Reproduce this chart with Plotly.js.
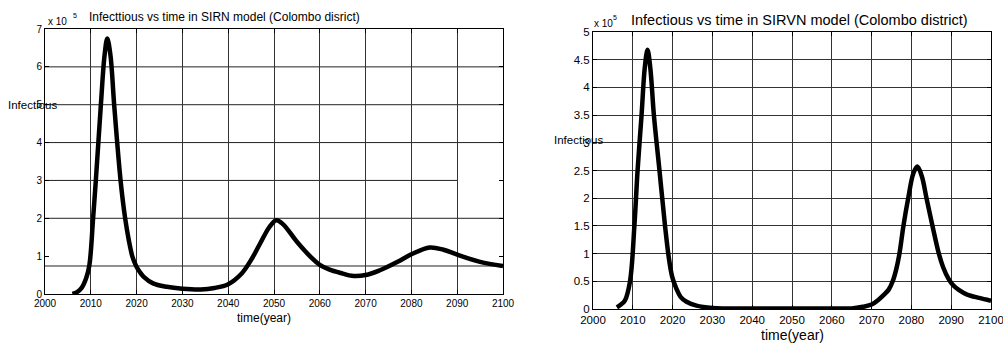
<!DOCTYPE html>
<html>
<head>
<meta charset="utf-8">
<script src="https://cdn.plot.ly/plotly-3.0.1.min.js"></script>
<style>
  html, body { margin: 0; padding: 0; background: #fff; }
  #chart { width: 1003px; height: 344px; }
</style>
</head>
<body>
<div id="chart"></div>
<script>
// ---- Data (values in units of 10^5) ----
const sirnYears = [2006, 2007, 2008, 2009, 2009.7, 2010.5, 2011.1, 2012.2, 2013, 2013.6, 2014.3, 2015.1, 2016.5, 2017.5, 2018.3, 2019.1, 2019.9, 2020.7, 2021.5, 2023.6, 2026.6, 2030, 2034, 2037, 2040, 2043, 2045, 2047, 2049, 2050.5, 2052, 2055, 2058, 2060, 2062, 2065, 2067, 2070, 2073, 2077, 2080, 2084, 2087, 2090, 2095, 2100];
const sirnInfectious = [0, 0.05, 0.16, 0.42, 0.77, 2, 3, 5, 6.3, 6.75, 6.3, 5, 3, 2, 1.42, 0.98, 0.74, 0.58, 0.46, 0.28, 0.19, 0.14, 0.12, 0.16, 0.26, 0.55, 0.9, 1.34, 1.77, 1.95, 1.84, 1.38, 0.98, 0.77, 0.65, 0.54, 0.48, 0.5, 0.62, 0.85, 1.05, 1.23, 1.17, 1.04, 0.85, 0.74];

const sirvnYears = [2006, 2007, 2008, 2009.3, 2010.4, 2011.2, 2012.2, 2013, 2013.7, 2014.4, 2015.3, 2016.7, 2018.1, 2019, 2019.9, 2021, 2022, 2023.5, 2026, 2030, 2040, 2050, 2060, 2065, 2067.8, 2070, 2071.6, 2073, 2074.3, 2075.3, 2076.2, 2077, 2078, 2079.2, 2080.5, 2081.5, 2082.6, 2083.8, 2085.3, 2086.9, 2088, 2089.3, 2090.5, 2092, 2094, 2097, 2100];
const sirvnInfectious = [0.03, 0.08, 0.15, 0.5, 1.5, 2.5, 3.5, 4.35, 4.68, 4.35, 3.5, 2.5, 1.5, 0.95, 0.58, 0.36, 0.22, 0.13, 0.06, 0.02, 0.01, 0.01, 0.01, 0.01, 0.04, 0.08, 0.16, 0.25, 0.35, 0.5, 0.72, 1.0, 1.5, 2.0, 2.45, 2.57, 2.4, 2.0, 1.5, 1.0, 0.75, 0.55, 0.43, 0.34, 0.26, 0.2, 0.15];

const yearTicks = [2000, 2010, 2020, 2030, 2040, 2050, 2060, 2070, 2080, 2090, 2100];
const leftYTicks = [0, 1, 2, 3, 4, 5, 6, 7];

// ---- Layout helpers ----
const W = 1003, H = 344;
const px = v => v / W;
const py = v => 1 - v / H;
const FONT = 'Liberation Sans, Arial, Helvetica, sans-serif';

// Left panel horizontal grid lines (as drawn in the original figure)
const leftGridFull = [0.74, 2, 4, 5, 6];
const leftGridPartial = { y: 3, x0: 2000, x1: 2090 };

const shapes = [];
leftGridFull.forEach(g => shapes.push({
  type: 'line', xref: 'x', yref: 'y', x0: 2000, x1: 2100, y0: g, y1: g,
  line: { color: '#222', width: 1 }, layer: 'below'
}));
shapes.push({
  type: 'line', xref: 'x', yref: 'y', x0: leftGridPartial.x0, x1: leftGridPartial.x1,
  y0: leftGridPartial.y, y1: leftGridPartial.y, line: { color: '#222', width: 1 }, layer: 'below'
});

const axisCommon = {
  showline: true, linecolor: '#000', linewidth: 1, mirror: 'ticks',
  ticks: 'inside', ticklen: 4, tickcolor: '#000', zeroline: false,
  gridcolor: '#333', gridwidth: 1, ticklabeloverflow: 'allow'
};

const traces = [
  { x: sirnYears, y: sirnInfectious, xaxis: 'x', yaxis: 'y', type: 'scatter', mode: 'lines',
    line: { color: '#000', width: 4.5, shape: 'spline', smoothing: 1 }, hoverinfo: 'skip' },
  { x: sirvnYears, y: sirvnInfectious, xaxis: 'x2', yaxis: 'y2', type: 'scatter', mode: 'lines',
    line: { color: '#000', width: 4.5, shape: 'spline', smoothing: 1 }, hoverinfo: 'skip' }
];

const ann = (text, x, y, size, xanchor) => ({
  text, xref: 'paper', yref: 'paper', x: px(x), y: py(y), xanchor: xanchor || 'center',
  yanchor: 'middle', showarrow: false, font: { family: FONT, size, color: '#000' }
});

const layout = {
  width: W, height: H,
  margin: { l: 0, r: 0, t: 0, b: 0, pad: 0 },
  paper_bgcolor: '#fff', plot_bgcolor: '#fff',
  showlegend: false,
  font: { family: FONT, color: '#000' },
  xaxis: Object.assign({}, axisCommon, {
    domain: [px(45), px(503)], range: [2000, 2100], tickvals: yearTicks,
    showgrid: true, anchor: 'y', tickfont: { family: FONT, size: 10 }
  }),
  yaxis: Object.assign({}, axisCommon, {
    domain: [py(294), py(29)], range: [0, 7], tickvals: leftYTicks,
    showgrid: false, anchor: 'x', tickfont: { family: FONT, size: 10 }
  }),
  xaxis2: Object.assign({}, axisCommon, {
    domain: [px(593), px(991)], range: [2000, 2100], tickvals: yearTicks,
    showgrid: true, anchor: 'y2', tickfont: { family: FONT, size: 11.5 }
  }),
  yaxis2: Object.assign({}, axisCommon, {
    domain: [py(309), py(32)], range: [0, 5], dtick: 0.5, tick0: 0,
    showgrid: true, anchor: 'x2', tickfont: { family: FONT, size: 11.5 }
  }),
  shapes,
  annotations: [
    ann('Infecttious vs time in SIRN model (Colombo disrict)', 224, 17, 12),
    ann('x 10', 46, 21, 10, 'left'),
    ann('5', 75, 16, 7),
    ann('Infectious', 6, 105, 11.5, 'left'),
    ann('time(year)', 264, 318, 12),
    ann('Infectious vs time in SIRVN model (Colombo district)', 799, 20, 14.5),
    ann('x 10', 592, 23, 10, 'left'),
    ann('5', 615, 18, 7),
    ann('Infectious', 552, 140, 11.5, 'left'),
    ann('time(year)', 792, 335, 14)
  ]
};

Plotly.newPlot('chart', traces, layout, { staticPlot: true, displayModeBar: false });
</script>
</body>
</html>
